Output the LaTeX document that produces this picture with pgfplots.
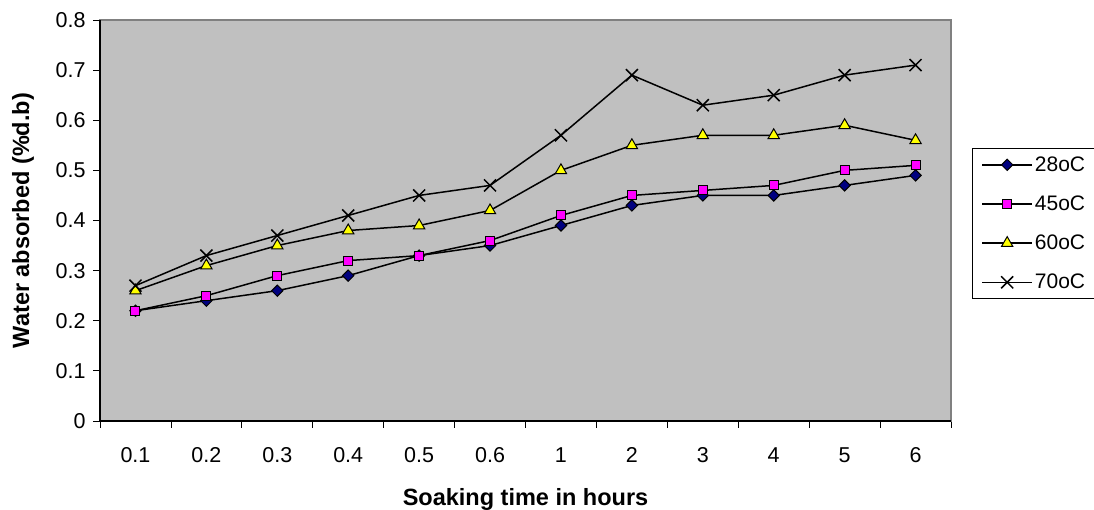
\documentclass[border=0pt]{standalone}
\usepackage{pgfplots}
\pgfplotsset{compat=1.18}
\usepackage{fontspec}
\setmainfont{Liberation Sans}
\definecolor{bggray}{HTML}{C0C0C0}
\definecolor{framegray}{HTML}{808080}
\definecolor{navy}{HTML}{000080}
\definecolor{magenta2}{HTML}{FF00FF}
\definecolor{yellow2}{HTML}{FFFF00}
\begin{document}
\begin{tikzpicture}[x=1pt,y=1pt]
\path[use as bounding box] (0,0) rectangle (1094,510);
\begin{axis}[
  at={(100pt,89pt)}, anchor=south west,
  width=851pt, height=401pt, scale only axis,
  xmin=-0.5, xmax=11.5, ymin=0, ymax=0.8,
  axis background/.style={fill=bggray},
  axis line style={draw=framegray, line width=1.5pt},
  xtick={0,...,11},
  xticklabels={0.1,0.2,0.3,0.4,0.5,0.6,1,2,3,4,5,6},
  minor xtick={-0.5,0.5,...,11.5},
  xtick pos=bottom, ytick pos=left,
  xtick style={draw=none},
  minor x tick style={draw=black, line width=0.8pt},
  ytick={0,0.1,...,0.8},
  yticklabels={0,0.1,0.2,0.3,0.4,0.5,0.6,0.7,0.8},
  y tick style={draw=black, line width=0.8pt},
  tick align=outside,
  major tick length=7pt, minor tick length=7pt,
  tick label style={font=\fontsize{21.5}{24}\selectfont},
  xticklabel style={anchor=base, yshift=-35pt},
  yticklabel style={xshift=-4pt},
  xlabel={\textbf{Soaking time in hours}},
  ylabel={\textbf{Water absorbed (\%d.b)}},
  label style={font=\fontsize{23.5}{26}\selectfont},
  xlabel style={at={(axis description cs:0.5,-0.2095)}, anchor=base},
  ylabel style={at={(axis description cs:-0.0905,0.5)}, anchor=center},
  legend style={at={(axis description cs:1.0247,0.68)}, anchor=north west,
    draw=black, fill=white, line width=0.8pt,
    font=\fontsize{21}{23}\selectfont,
    row sep=19pt, inner xsep=9pt, inner ysep=6pt},
  legend cell align=left,
  legend image code/.code={\draw[mark repeat=2,mark phase=2] plot coordinates {(0pt,0pt) (25pt,0pt) (50pt,0pt)};},
  every axis plot/.append style={line width=1.5pt, black},
  clip=false,
]
\addplot[mark=square*, mark size=4pt, mark options={rotate=45, fill=navy, draw=black, line width=1pt}]
 coordinates {(0,0.22)(1,0.24)(2,0.26)(3,0.29)(4,0.33)(5,0.35)(6,0.39)(7,0.43)(8,0.45)(9,0.45)(10,0.47)(11,0.49)};
\addlegendentry{28oC\hspace{8pt}}
\addplot[mark=square*, mark size=4.5pt, mark options={fill=magenta2, draw=black, line width=1pt}]
 coordinates {(0,0.22)(1,0.25)(2,0.29)(3,0.32)(4,0.33)(5,0.36)(6,0.41)(7,0.45)(8,0.46)(9,0.47)(10,0.50)(11,0.51)};
\addlegendentry{45oC}
\addplot[mark=triangle*, mark size=6.5pt, mark options={fill=yellow2, draw=black, line width=1pt}]
 coordinates {(0,0.26)(1,0.31)(2,0.35)(3,0.38)(4,0.39)(5,0.42)(6,0.50)(7,0.55)(8,0.57)(9,0.57)(10,0.59)(11,0.56)};
\addlegendentry{60oC}
\addplot[mark=x, mark size=8.5pt, mark options={draw=black, line width=1.5pt}]
 coordinates {(0,0.27)(1,0.33)(2,0.37)(3,0.41)(4,0.45)(5,0.47)(6,0.57)(7,0.69)(8,0.63)(9,0.65)(10,0.69)(11,0.71)};
\addlegendentry{70oC}
\draw[black, line width=1.5pt] (rel axis cs:0,1) -- (rel axis cs:0,0) -- (rel axis cs:1,0);
\end{axis}
\end{tikzpicture}
\end{document}
